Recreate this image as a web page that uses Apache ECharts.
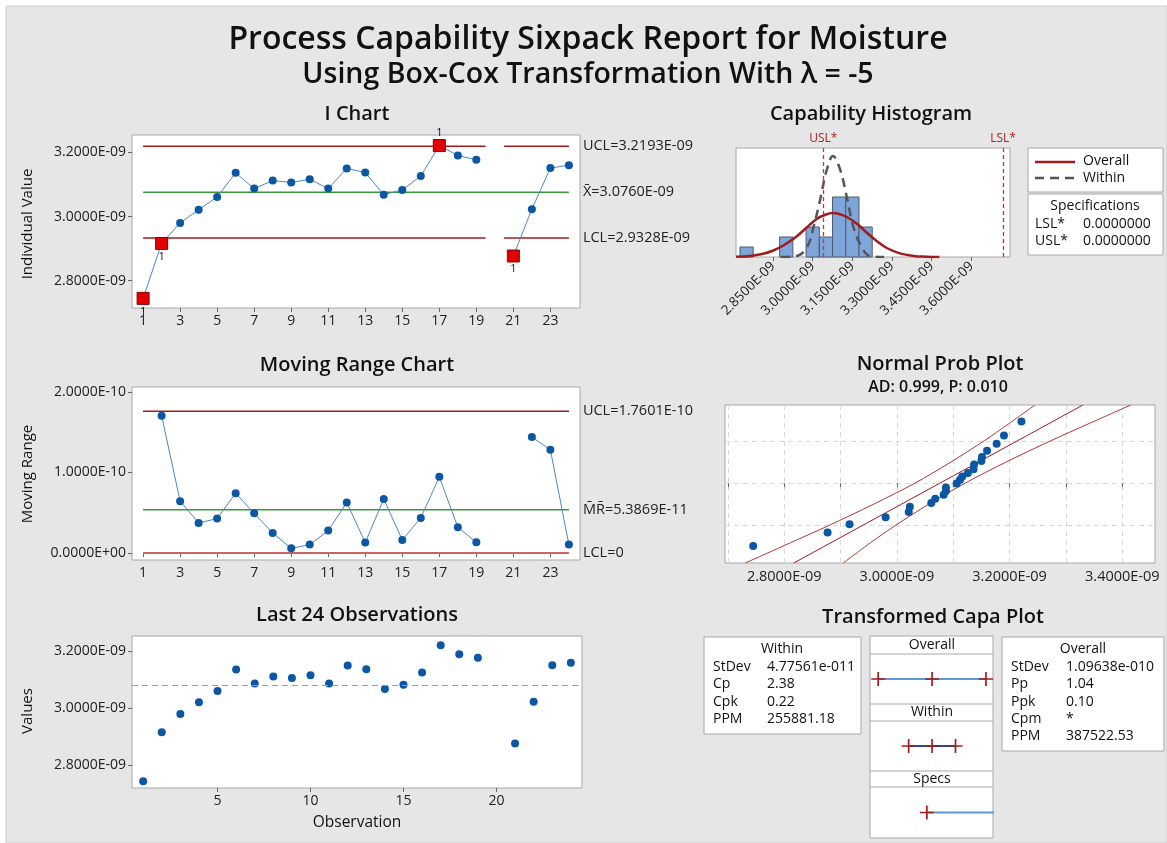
<!DOCTYPE html>
<html>
<head>
<meta charset="utf-8">
<script src="https://cdn.jsdelivr.net/npm/echarts@6/dist/echarts.min.js"></script>
<style>
  html, body { margin: 0; padding: 0; background: #fff; }
  #chart { width: 1167px; height: 843px; }
</style>
</head>
<body>
<div id="chart"></div>
<script>
// transformed values, moisture in units of 1E-09, moving range in units of 1E-10
const observation = [1, 2, 3, 4, 5, 6, 7, 8, 9, 10, 11, 12, 13, 14, 15, 16, 17, 18, 19, 20, 21, 22, 23, 24];
const moisture = [2.745, 2.916, 2.980, 3.021, 3.061, 3.136, 3.087, 3.112, 3.106, 3.116, 3.087, 3.150,
                  3.137, 3.068, 3.083, 3.126, 3.221, 3.190, 3.177, null, 2.877, 3.023, 3.151, 3.160];
const movingRange = [null, 1.705, 0.643, 0.373, 0.427, 0.743, 0.494, 0.249, 0.058, 0.104, 0.278, 0.627,
                     0.129, 0.672, 0.162, 0.436, 0.946, 0.320, 0.133, null, null, 1.440, 1.282, 0.104];
const flaggedObs = [1, 2, 17, 21];
const flaggedAbove = [17];

const iLimits = [3.2193, 3.0760, 2.9328];      // UCL, X-bar, LCL
const mrLimits = [1.7601, 0.53869, 0];         // UCL, MR-bar, LCL

const iTicksX = [1, 3, 5, 7, 9, 11, 13, 15, 17, 19, 21, 23];
const lastTicksX = [5, 10, 15, 20];
const valueTicks = [2.8, 3.0, 3.2];
const mrTicks = [0, 1, 2];

// capability histogram
const binCenters = [2.75, 2.90, 3.00, 3.05, 3.10, 3.15, 3.20];
const binCounts = [1, 2, 3, 2, 6, 6, 3];
const binWidth = 0.05;
const histTicks = [2.85, 3.00, 3.15, 3.30, 3.45, 3.60];
const overallCurveX = [2.710, 2.763, 2.813, 2.851, 2.889, 2.939, 2.977, 3.015, 3.050, 3.076, 3.100, 3.129, 3.166, 3.204, 3.242, 3.280, 3.330, 3.381, 3.430, 3.479];
const overallCurveY = [0.02, 0.09, 0.32, 0.65, 1.15, 2.05, 2.95, 3.80, 4.25, 4.40, 4.30, 4.00, 3.35, 2.45, 1.60, 0.90, 0.36, 0.11, 0.03, 0.0];
const withinCurveX = [2.880, 2.940, 2.980, 3.003, 3.028, 3.053, 3.077, 3.103, 3.129, 3.154, 3.185, 3.217, 3.270];
const withinCurveY = [0.0, 0.10, 1.07, 3.00, 5.70, 8.70, 10.10, 8.80, 6.00, 3.00, 1.00, 0.10, 0.0];
const specTransformed = { USL: 3.044, LSL: 3.7235 };

// normal probability plot
const probZ = [-1.90, -1.49, -1.24, -1.03, -0.87, -0.71, -0.60, -0.47, -0.35, -0.24, -0.13, -0.01,
               0.10, 0.20, 0.31, 0.42, 0.56, 0.67, 0.79, 0.98, 1.19, 1.44, 1.86];
const probTicks = [2.8, 3.0, 3.2, 3.4];
const probMinor = [2.7, 2.8, 2.9, 3.0, 3.1, 3.2, 3.3, 3.4];
const probGridZ = [-1.28, 0, 1.28];
const fitLine = [[2.817, -2.41], [3.330, 2.36]];
const upperBand = [[2.731, -2.41], [2.811, -1.8], [2.879, -1.28], [2.958, -0.64], [3.032, 0], [3.096, 0.64], [3.155, 1.28], [3.199, 1.8], [3.245, 2.36]];
const lowerBand = [[2.905, -2.41], [2.953, -1.8], [2.997, -1.28], [3.056, -0.64], [3.121, 0], [3.194, 0.64], [3.273, 1.28], [3.341, 1.8], [3.415, 2.36]];

// capa plot
const overallMarks = [2.747, 3.076, 3.405];
const withinMarks = [2.933, 3.076, 3.219];
const withinStats = [['StDev', '4.77561e-011'], ['Cp', '2.38'], ['Cpk', '0.22'], ['PPM', '255881.18']];
const overallStats = [['StDev', '1.09638e-010'], ['Pp', '1.04'], ['Ppk', '0.10'], ['Cpm', '*'], ['PPM', '387522.53']];

const FONT = '"Open Sans", "Noto Sans", sans-serif';
const BLUE = '#0b57a4';
const DARKRED = '#a01c1c';
const fmt9 = v => v.toFixed(4) + 'E-09';
const fmt10 = v => v === 0 ? '0.0000E+00' : v.toFixed(4) + 'E-10';

const firstObs = observation[0];
const lastObs = observation[observation.length - 1];
const missingObs = observation.filter((o, i) => moisture[i] === null);
const obsPairs = observation.map((o, i) => [o, moisture[i] === null ? '-' : moisture[i]]);
const mrPairs = observation.map((o, i) => [o, movingRange[i] === null ? '-' : movingRange[i]]);

function brokenLimit(v) {
    const pts = [[firstObs, v]];
    missingObs.forEach(m => { pts.push([m - 0.5, v], [m, '-'], [m + 0.5, v]); });
    pts.push([lastObs, v]);
    return pts;
}

function gridBox(left, top, width, height) {
    return { left, top, width, height, show: true, backgroundColor: '#fff', borderColor: '#a8a8a8', borderWidth: 1, outerBoundsMode: 'none' };
}

function valAxis(gridIndex, min, max, ticks, formatter, extra) {
    return Object.assign({
        gridIndex, type: 'value', min, max,
        axisLine: { show: false },
        axisTick: { show: !!ticks, customValues: ticks || undefined, length: 4, lineStyle: { color: '#666' } },
        axisLabel: { show: !!ticks, customValues: ticks || undefined, formatter, color: '#222', fontSize: 14, fontFamily: FONT, margin: 6 },
        splitLine: { show: false }
    }, extra || {});
}

function limitSeries(xi, yi, data, color, label, width) {
    return {
        type: 'line', xAxisIndex: xi, yAxisIndex: yi, data, symbol: 'none', silent: true,
        lineStyle: { color, width: width || 1.5 }, z: 2,
        endLabel: { show: true, formatter: label, color: '#222', fontSize: 14.5, fontFamily: FONT, distance: 14 }
    };
}

const plus = 'path://M4.4,0H5.6V4.4H10V5.6H5.6V10H4.4V5.6H0V4.4H4.4Z';
const dot = { color: BLUE, opacity: 1 };

const chart = echarts.init(document.getElementById('chart'));

const grid = [
    gridBox(132, 135, 448, 173),   // I chart
    gridBox(132, 387, 448, 173),   // moving range
    gridBox(132, 636, 450, 152),   // last 24
    gridBox(736, 148, 274, 109),   // histogram
    gridBox(725, 405, 430, 158),   // normal prob
    { left: 870, top: 654, width: 123, height: 50, outerBoundsMode: 'none' },
    { left: 870, top: 721, width: 123, height: 50, outerBoundsMode: 'none' },
    { left: 870, top: 787, width: 123, height: 51, outerBoundsMode: 'none' }
];

const xAxis = [
    valAxis(0, 0.4, 24.6, iTicksX, v => v),
    valAxis(1, 0.4, 24.6, iTicksX, v => v),
    valAxis(2, 0.4, 24.6, lastTicksX, v => v),
    valAxis(3, 2.71, 3.746, histTicks, fmt9),
    valAxis(4, 2.695, 3.458, probTicks, fmt9, {
        axisTick: { show: true, customValues: probMinor, length: 4, lineStyle: { color: '#666' } },
        splitLine: { show: true, lineStyle: { color: '#d9d9d9', type: [5, 4] } }
    }),
    valAxis(5, 2.697, 3.448, null),
    valAxis(6, 2.697, 3.448, null),
    valAxis(7, 2.697, 3.448, null)
];
xAxis[3].axisLabel.rotate = 45;
xAxis[3].axisLabel.fontSize = 13.5;
xAxis[3].axisLabel.margin = 7;
xAxis[4].axisLabel.fontSize = 14.5;

const yAxis = [
    valAxis(0, 2.715, 3.254, valueTicks, fmt9),
    valAxis(1, -0.087, 2.062, mrTicks, fmt10),
    valAxis(2, 2.721, 3.2535, valueTicks, fmt9),
    valAxis(3, 0, 10.9, null),
    valAxis(4, -2.41, 2.36, null, null, {
        axisTick: { show: false, customValues: probGridZ },
        splitLine: { show: true, lineStyle: { color: '#d9d9d9', type: [5, 4] } }
    }),
    valAxis(5, -1, 1, null),
    valAxis(6, -1, 1, null),
    valAxis(7, -1, 1, null)
];

const series = [
    // I chart
    limitSeries(0, 0, brokenLimit(iLimits[0]), DARKRED, 'UCL=3.2193E-09'),
    limitSeries(0, 0, [[firstObs, iLimits[1]], [lastObs, iLimits[1]]], '#3a9a3a', 'X\u0304=3.0760E-09'),
    limitSeries(0, 0, brokenLimit(iLimits[2]), DARKRED, 'LCL=2.9328E-09'),
    {
        type: 'line', xAxisIndex: 0, yAxisIndex: 0, data: obsPairs, connectNulls: false,
        symbol: 'circle', symbolSize: 8, itemStyle: dot,
        lineStyle: { color: '#4f86c6', width: 1 }, z: 3
    },
    {
        type: 'scatter', xAxisIndex: 0, yAxisIndex: 0, symbol: 'rect', symbolSize: 12, z: 5,
        itemStyle: { color: '#e00000', borderColor: '#8a0000', borderWidth: 1, opacity: 1 },
        label: { show: true, formatter: '1', position: 'bottom', distance: 1, color: '#111', fontSize: 11, fontFamily: FONT },
        data: flaggedObs.map(o => ({
            value: [o, moisture[o - 1]],
            label: { position: flaggedAbove.includes(o) ? 'top' : 'bottom' }
        }))
    },
    // moving range
    limitSeries(1, 1, [[firstObs, mrLimits[0]], [lastObs, mrLimits[0]]], DARKRED, 'UCL=1.7601E-10'),
    limitSeries(1, 1, [[firstObs, mrLimits[1]], [lastObs, mrLimits[1]]], '#3a9a3a', 'M\u0304R\u0304=5.3869E-11'),
    limitSeries(1, 1, [[firstObs, mrLimits[2]], [lastObs, mrLimits[2]]], '#c86464', 'LCL=0', 2),
    {
        type: 'line', xAxisIndex: 1, yAxisIndex: 1, data: mrPairs, connectNulls: false,
        symbol: 'circle', symbolSize: 8, itemStyle: dot,
        lineStyle: { color: '#4f86c6', width: 1 }, z: 3
    },
    // last 24 observations
    {
        type: 'scatter', xAxisIndex: 2, yAxisIndex: 2, data: obsPairs.filter(p => p[1] !== '-'),
        symbolSize: 8, itemStyle: dot,
        markLine: {
            silent: true, symbol: 'none', label: { show: false },
            lineStyle: { color: '#9a9a9a', type: [6, 4], width: 1.2 },
            data: [{ yAxis: iLimits[1] }]
        }
    },
    // histogram
    {
        type: 'custom', xAxisIndex: 3, yAxisIndex: 3,
        data: binCenters.map((c, i) => [c, binCounts[i]]),
        renderItem: (params, api) => {
            const c = api.value(0), n = api.value(1);
            const p0 = api.coord([c - binWidth / 2, n]);
            const p1 = api.coord([c + binWidth / 2, 0]);
            return {
                type: 'rect',
                shape: { x: p0[0], y: p0[1], width: p1[0] - p0[0], height: p1[1] - p0[1] },
                style: { fill: '#7ea6da', stroke: '#4d5a6b', lineWidth: 1 }
            };
        },
        markLine: {
            silent: true, symbol: 'none',
            lineStyle: { color: '#e02828', type: [4, 3], width: 1.3 },
            label: { show: true, position: 'end', color: '#b02020', fontSize: 12, fontFamily: FONT, distance: 3 },
            data: [
                { xAxis: specTransformed.USL, label: { formatter: 'USL*' } },
                { xAxis: specTransformed.LSL, label: { formatter: 'LSL*' } }
            ]
        }
    },
    {
        type: 'line', xAxisIndex: 3, yAxisIndex: 3, smooth: 0.4, symbol: 'none', z: 4,
        data: overallCurveX.map((x, i) => [x, overallCurveY[i]]),
        lineStyle: { color: DARKRED, width: 2.5 }
    },
    {
        type: 'line', xAxisIndex: 3, yAxisIndex: 3, smooth: 0.4, symbol: 'none', z: 4,
        data: withinCurveX.map((x, i) => [x, withinCurveY[i]]),
        lineStyle: { color: '#555', width: 2.5, type: [9, 6] }
    },
    // normal probability plot
    {
        type: 'line', xAxisIndex: 4, yAxisIndex: 4, data: fitLine, symbol: 'none',
        lineStyle: { color: DARKRED, width: 1 }
    },
    {
        type: 'line', xAxisIndex: 4, yAxisIndex: 4, data: upperBand, symbol: 'none', smooth: 0.3,
        lineStyle: { color: '#b03535', width: 1 }
    },
    {
        type: 'line', xAxisIndex: 4, yAxisIndex: 4, data: lowerBand, symbol: 'none', smooth: 0.3,
        lineStyle: { color: '#b03535', width: 1 }
    },
    {
        type: 'scatter', xAxisIndex: 4, yAxisIndex: 4, symbolSize: 8, itemStyle: dot, z: 5,
        data: moisture.filter(v => v !== null).sort((a, b) => a - b).map((v, i) => [v, probZ[i]])
    },
    // capa plot
    {
        type: 'line', xAxisIndex: 5, yAxisIndex: 5, symbol: 'none',
        data: [[overallMarks[0], 0], [overallMarks[2], 0]], lineStyle: { color: '#5b9bd5', width: 2 }
    },
    {
        type: 'scatter', xAxisIndex: 5, yAxisIndex: 5, symbol: plus, symbolSize: 14, z: 4,
        itemStyle: { color: DARKRED, opacity: 1 }, data: overallMarks.map(v => [v, 0])
    },
    {
        type: 'line', xAxisIndex: 6, yAxisIndex: 6, symbol: 'none',
        data: [[withinMarks[0], 0], [withinMarks[2], 0]], lineStyle: { color: '#1d4f9a', width: 2 }
    },
    {
        type: 'scatter', xAxisIndex: 6, yAxisIndex: 6, symbol: plus, symbolSize: 14, z: 4,
        itemStyle: { color: DARKRED, opacity: 1 }, data: withinMarks.map(v => [v, 0])
    },
    {
        type: 'line', xAxisIndex: 7, yAxisIndex: 7, symbol: 'none',
        data: [[specTransformed.USL, 0], [specTransformed.LSL, 0]], lineStyle: { color: '#5b9bd5', width: 2 }
    },
    {
        type: 'scatter', xAxisIndex: 7, yAxisIndex: 7, symbol: plus, symbolSize: 14, z: 4,
        itemStyle: { color: DARKRED, opacity: 1 }, data: [[specTransformed.USL, 0]]
    }
];

// text and boxes
function txt(x, y, text, size, opts) {
    opts = opts || {};
    return {
        type: 'text', x, y, rotation: opts.rotation || 0, silent: true, z: 10,
        style: {
            text, fill: opts.color || '#111', textAlign: opts.align || 'left', textVerticalAlign: 'middle',
            font: (opts.weight || 'normal') + ' ' + size + 'px ' + FONT
        }
    };
}
function box(x, y, w, h) {
    return { type: 'rect', silent: true, z: 1, shape: { x, y, width: w, height: h }, style: { fill: '#fff', stroke: '#a8a8a8', lineWidth: 1 } };
}
function hline(x1, x2, y) {
    return { type: 'polyline', silent: true, z: 2, shape: { points: [[x1, y], [x2, y]] }, style: { stroke: '#a8a8a8', lineWidth: 1 } };
}

const graphic = [
    { type: 'rect', silent: true, z: -10, shape: { x: 6, y: 6, width: 1161, height: 837 }, style: { fill: '#e6e6e6', stroke: '#cfcfcf' } },
    txt(588, 40, 'Process Capability Sixpack Report for Moisture', 32, { align: 'center', weight: 600 }),
    txt(588, 75, 'Using Box-Cox Transformation With \u03bb = -5', 28.5, { align: 'center', weight: 600 }),
    txt(357, 114, 'I Chart', 20, { align: 'center', weight: 600 }),
    txt(871, 114, 'Capability Histogram', 20, { align: 'center', weight: 600 }),
    txt(357, 365, 'Moving Range Chart', 20, { align: 'center', weight: 600 }),
    txt(940, 364, 'Normal Prob Plot', 20, { align: 'center', weight: 600 }),
    txt(938, 387, 'AD: 0.999, P: 0.010', 16, { align: 'center', weight: 600 }),
    txt(357, 615, 'Last 24 Observations', 20, { align: 'center', weight: 600 }),
    txt(933, 617, 'Transformed Capa Plot', 20, { align: 'center', weight: 600 }),
    txt(28, 224, 'Individual Value', 15, { align: 'center', rotation: Math.PI / 2 }),
    txt(28, 474, 'Moving Range', 15, { align: 'center', rotation: Math.PI / 2 }),
    txt(28, 711, 'Values', 15, { align: 'center', rotation: Math.PI / 2 }),
    txt(357, 823, 'Observation', 15.5, { align: 'center' }),
    // histogram legend
    box(1028, 148, 135, 44),
    { type: 'line', silent: true, z: 10, shape: { x1: 1035, y1: 162, x2: 1075, y2: 162 }, style: { stroke: DARKRED, lineWidth: 2.5 } },
    { type: 'line', silent: true, z: 10, shape: { x1: 1035, y1: 178, x2: 1075, y2: 178 }, style: { stroke: '#555', lineWidth: 2.5, lineDash: [9, 6] } },
    txt(1083, 161, 'Overall', 14),
    txt(1083, 178, 'Within', 14),
    box(1028, 194, 135, 61),
    txt(1095, 206, 'Specifications', 14, { align: 'center' }),
    txt(1035, 224, 'LSL*', 14),
    txt(1083, 224, '0.0000000', 14),
    txt(1035, 241, 'USL*', 14),
    txt(1083, 241, '0.0000000', 14),
    // capa plot tables and frame
    box(704, 637, 157, 97),
    txt(782, 649, 'Within', 14, { align: 'center' }),
    box(1002, 637, 162, 114),
    txt(1083, 649, 'Overall', 14, { align: 'center' }),
    box(870, 636, 123, 202),
    hline(870, 993, 654), hline(870, 993, 704), hline(870, 993, 721), hline(870, 993, 771), hline(870, 993, 787),
    txt(932, 645, 'Overall', 14, { align: 'center' }),
    txt(932, 712.5, 'Within', 14, { align: 'center' }),
    txt(932, 779, 'Specs', 14, { align: 'center' })
];
withinStats.forEach((r, i) => {
    graphic.push(txt(713, 667 + i * 17.5, r[0], 14), txt(767, 667 + i * 17.5, r[1], 14));
});
overallStats.forEach((r, i) => {
    graphic.push(txt(1011, 667 + i * 17.3, r[0], 14), txt(1066, 667 + i * 17.3, r[1], 14));
});

chart.setOption({
    animation: false,
    backgroundColor: '#fff',
    textStyle: { fontFamily: FONT },
    grid, xAxis, yAxis, series, graphic
});
</script>
</body>
</html>
